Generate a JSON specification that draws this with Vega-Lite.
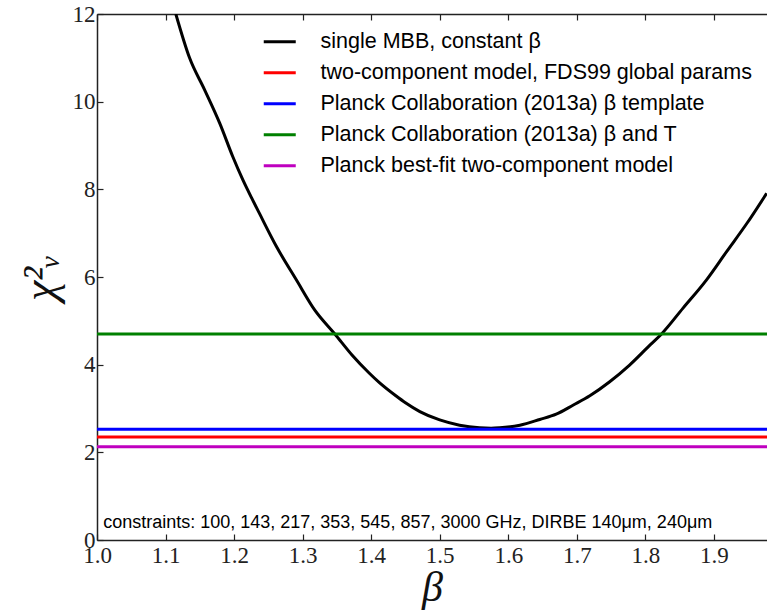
{
  "$schema": "https://vega.github.io/schema/vega-lite/v6.json",
  "width": 670,
  "height": 526,
  "autosize": {"type": "none"},
  "padding": {"left": 97, "top": 14, "right": 0, "bottom": 71},
  "background": "white",
  "config": {
    "view": {"stroke": null},
    "axis": {"grid": false, "domainColor": "#222", "domainWidth": 1.5, "tickColor": "#222", "tickWidth": 1.2, "labelColor": "#222", "titleColor": "#111"}
  },
  "datasets": {
    "curve": [
      {"beta": 1.115, "chi2": 12.0},
      {"beta": 1.135, "chi2": 11.0},
      {"beta": 1.157, "chi2": 10.27},
      {"beta": 1.179, "chi2": 9.51},
      {"beta": 1.198, "chi2": 8.75},
      {"beta": 1.213, "chi2": 8.21},
      {"beta": 1.227, "chi2": 7.76},
      {"beta": 1.237, "chi2": 7.45},
      {"beta": 1.262, "chi2": 6.69},
      {"beta": 1.291, "chi2": 5.93},
      {"beta": 1.3175, "chi2": 5.25},
      {"beta": 1.347, "chi2": 4.7},
      {"beta": 1.372, "chi2": 4.22},
      {"beta": 1.397, "chi2": 3.81},
      {"beta": 1.412, "chi2": 3.59},
      {"beta": 1.436, "chi2": 3.29},
      {"beta": 1.45, "chi2": 3.13},
      {"beta": 1.471, "chi2": 2.93},
      {"beta": 1.5, "chi2": 2.74},
      {"beta": 1.529, "chi2": 2.62},
      {"beta": 1.558, "chi2": 2.56},
      {"beta": 1.575, "chi2": 2.55},
      {"beta": 1.5876, "chi2": 2.56},
      {"beta": 1.617, "chi2": 2.62},
      {"beta": 1.646, "chi2": 2.75},
      {"beta": 1.67, "chi2": 2.87},
      {"beta": 1.695, "chi2": 3.08},
      {"beta": 1.719, "chi2": 3.29},
      {"beta": 1.748, "chi2": 3.61},
      {"beta": 1.777, "chi2": 3.99},
      {"beta": 1.807, "chi2": 4.45},
      {"beta": 1.8236, "chi2": 4.7},
      {"beta": 1.855, "chi2": 5.29},
      {"beta": 1.889, "chi2": 5.93},
      {"beta": 1.9186, "chi2": 6.58},
      {"beta": 1.948, "chi2": 7.22},
      {"beta": 1.977, "chi2": 7.91}
    ],
    "levels": [
      {"series": "two-component model, FDS99 global params", "chi2": 2.35},
      {"series": "Planck Collaboration (2013a) β template", "chi2": 2.525},
      {"series": "Planck Collaboration (2013a) β and T", "chi2": 4.7},
      {"series": "Planck best-fit two-component model", "chi2": 2.13}
    ],
    "note": [
      {"beta": 1.009, "chi2": 0.27, "label": "constraints: 100, 143, 217, 353, 545, 857, 3000 GHz, DIRBE 140μm, 240μm"}
    ]
  },
  "layer": [
    {
      "data": {"name": "curve"},
      "transform": [{"calculate": "'single MBB, constant β'", "as": "series"}],
      "mark": {"type": "line", "strokeWidth": 3, "clip": true, "interpolate": "monotone"},
      "encoding": {
        "x": {"field": "beta", "type": "quantitative",
          "scale": {"domain": [1.0, 1.9775], "nice": false, "zero": false},
          "axis": {"orient": "bottom", "values": [1.0, 1.1, 1.2, 1.3, 1.4, 1.5, 1.6, 1.7, 1.8, 1.9], "format": ".1f",
            "labelFont": "Liberation Serif", "labelFontSize": 23, "tickSize": -6, "labelPadding": 10, "labelFlush": false,
            "title": "β", "titleFont": "Liberation Serif", "titleFontStyle": "italic", "titleFontWeight": "normal", "titleFontSize": 42, "titlePadding": 0}},
        "y": {"field": "chi2", "type": "quantitative",
          "scale": {"domain": [0, 12], "nice": false},
          "axis": {"orient": "left", "values": [0, 2, 4, 6, 8, 10, 12],
            "labelFont": "Liberation Serif", "labelFontSize": 23, "tickSize": -6, "labelPadding": 8, "labelFlush": false,
            "title": "χ²ᵥ", "titleFont": "Liberation Serif", "titleFontStyle": "italic", "titleFontWeight": "normal", "titleFontSize": 46, "titlePadding": 8}},
        "color": {"field": "series", "type": "nominal",
          "scale": {
            "domain": ["single MBB, constant β", "two-component model, FDS99 global params", "Planck Collaboration (2013a) β template", "Planck Collaboration (2013a) β and T", "Planck best-fit two-component model"],
            "range": ["#000000", "#ff0000", "#0000ff", "#008000", "#bf00bf"]},
          "legend": {"orient": "none", "legendX": 172, "legendY": 17, "title": null,
            "symbolType": "M-2,0H2", "symbolSize": 256, "symbolStrokeWidth": 3, "symbolFillColor": "transparent",
            "labelFont": "Liberation Sans", "labelFontSize": 21.5, "labelColor": "#000", "labelOffset": 30, "rowPadding": 8, "padding": 0, "labelLimit": 600}}
      }
    },
    {
      "data": {"name": "levels"},
      "mark": {"type": "rule", "strokeWidth": 3},
      "encoding": {
        "y": {"field": "chi2", "type": "quantitative"},
        "color": {"field": "series", "type": "nominal"}
      }
    },
    {
      "data": {"name": "note"},
      "mark": {"type": "text", "align": "left", "baseline": "alphabetic", "font": "Liberation Sans", "fontSize": 18, "color": "#000"},
      "encoding": {
        "x": {"field": "beta", "type": "quantitative", "axis": null},
        "y": {"field": "chi2", "type": "quantitative"},
        "text": {"field": "label"}
      }
    },
    {
      "data": {"name": "note"},
      "mark": {"type": "point", "opacity": 0},
      "encoding": {
        "x": {"field": "beta", "type": "quantitative",
          "axis": {"orient": "top", "values": [1.0, 1.1, 1.2, 1.3, 1.4, 1.5, 1.6, 1.7, 1.8, 1.9], "labels": false, "ticks": true, "title": null, "tickSize": -6, "tickColor": "#222", "tickWidth": 1.2}},
        "y": {"field": "chi2", "type": "quantitative"}
      }
    }
  ],
  "resolve": {"axis": {"x": "independent"}}
}
